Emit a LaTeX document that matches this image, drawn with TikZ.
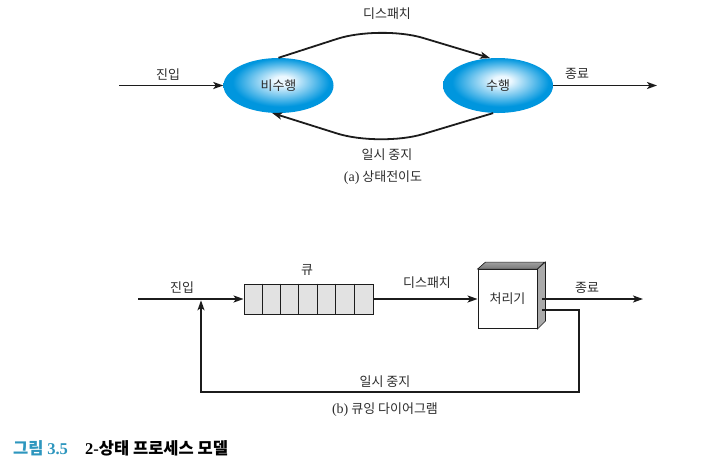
\documentclass[tikz,border=0pt]{standalone}
\usepackage{fontspec}
\newfontfamily\kr{Noto Sans CJK KR}
\newfontfamily\lat{Liberation Serif}
\usetikzlibrary{arrows.meta,shapes.geometric,calc}
\definecolor{ellblue}{RGB}{0,150,222}
\definecolor{elllight}{RGB}{236,248,255}
\definecolor{txt}{RGB}{45,45,45}
\definecolor{linec}{RGB}{28,28,28}
\definecolor{capblue}{RGB}{45,150,190}
\definecolor{qgrey}{RGB}{226,226,226}
\definecolor{topgrey}{RGB}{120,120,120}
\definecolor{sidegrey}{RGB}{170,170,170}
\pgfdeclareradialshading{ellshade}{\pgfpoint{2bp}{5bp}}{color(0bp)=(elllight); color(4bp)=(elllight); color(14bp)=(ellblue!55!elllight); color(22bp)=(ellblue); color(50bp)=(ellblue)}
\tikzset{
  lbl/.style={font=\kr\fontsize{13}{15}\selectfont, text=txt, inner sep=0pt},
  conn/.style={draw=linec, line width=1.8pt, -{Stealth[length=10pt,width=7pt,inset=2.5pt]}},
  state/.style={ellipse, minimum width=110pt, minimum height=55pt, inner sep=0pt,
    shading=ellshade, font=\kr\fontsize{13}{15}\selectfont, text=txt},
  queuebox/.style={draw=linec, line width=0.9pt, fill=qgrey, minimum width=129pt, minimum height=30pt, inner sep=0pt},
  procbox/.style={draw=linec, line width=0.9pt, fill=white, minimum width=59pt, minimum height=59pt, inner sep=0pt,
    font=\kr\fontsize{13}{15}\selectfont, text=txt},
  captext/.style={font=\kr\bfseries\fontsize{16.5}{18}\selectfont, inner sep=0pt, anchor=west}
}
\begin{document}
\begin{tikzpicture}[x=1pt,y=-1pt]
\fill[white] (0,0) rectangle (717,475);
\useasboundingbox (0,0) rectangle (717,475);

% ---------- (a) state transition diagram ----------
\node[state] (s1) at (278.5,85.5) {비수행};
\node[state] (s2) at (498,85.5) {수행};
\coordinate (in1) at (119,85.5);
\coordinate (out1) at (657,85.5);
\coordinate (topbend) at (380,25);
\coordinate (botbend) at (380,147);

\draw[conn] (in1) -- (s1.west);
\draw[conn] (s2.east) -- (out1);
\draw[conn, rounded corners=45pt] (s1.north) -- (topbend) -- (s2.106);
\draw[conn, rounded corners=45pt] (s2.-100) -- (botbend) -- (s1.-103);

\node[lbl] (la1) at (168,75) {진입};
\node[lbl] (la2) at (577,74) {종료};
\node[lbl] (la3) at (387,14) {디스패치};
\node[lbl] (la4) at (387,155) {일시 중지};
\node[lbl] (la5) at (383,178) {{\lat\fontsize{14}{16}\selectfont (a)} 상태전이도};

% ---------- (b) queueing diagram ----------
\node[queuebox] (q) at (308.5,299) {};
\foreach \i in {1,...,6}
  \draw[draw=linec, line width=0.9pt] ($(q.north west)+(\i*129/7,0)$) -- ($(q.south west)+(\i*129/7,0)$);
\node[procbox] (p) at (507.5,299) {처리기};
\filldraw[draw=linec, line width=0.6pt, top color=topgrey!70!white, bottom color=topgrey]
  (p.north west) -- ++(8,-7) -- ++(59,0) -- (p.north east) -- cycle;
\filldraw[draw=linec, line width=0.6pt, fill=sidegrey]
  (p.north east) -- ++(8,-7) -- ++(0,59) -- (p.south east) -- cycle;

\coordinate (qin) at (138,299);
\coordinate (pout) at (542,299);
\coordinate (out2) at (643,299);
\coordinate (pfb) at (542,310);
\coordinate (fbc) at (579,392);
\coordinate (join) at (201,300.3);

\draw[conn] (qin) -- (q.west);
\draw[conn] (q.east) -- (p.west);
\draw[conn] (pout) -- (out2);
\draw[conn] (pfb) -| (fbc) -| (join);

\node[lbl] (lb1) at (182,288) {진입};
\node[lbl] (lb2) at (307,270) {큐};
\node[lbl] (lb3) at (427,283) {디스패치};
\node[lbl] (lb4) at (587,288) {종료};
\node[lbl] (lb5) at (385,382) {일시 중지};
\node[lbl] (lb6) at (385,410) {{\lat\fontsize{14}{16}\selectfont (b)} 큐잉 다이어그램};

% ---------- caption ----------
\node[captext, text=capblue] (c1) at (13,448) {그림 {\lat\bfseries 3.5}};
\node[captext, text=black] (c2) at (85,448) {{\lat\bfseries 2-}상태 프로세스 모델};
\end{tikzpicture}
\end{document}
